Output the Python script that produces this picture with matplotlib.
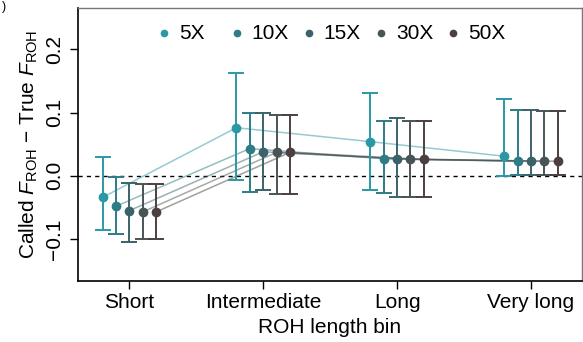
import numpy as np
import matplotlib
matplotlib.use('Agg')
import matplotlib.pyplot as plt

plt.rcParams['font.family'] = ['Liberation Sans', 'DejaVu Sans']
plt.rcParams['mathtext.fontset'] = 'custom'
plt.rcParams['mathtext.rm'] = 'Liberation Sans'
plt.rcParams['mathtext.it'] = 'Liberation Sans:italic'

bins = ['Short', 'Intermediate', 'Long', 'Very long']
depths = ['5X', '10X', '15X', '30X', '50X']
colors = ['#2b98a5', '#2d7c86', '#3a6369', '#4a5455', '#4d3f3f']

# mean difference per depth, one value per bin
mean_5x = [-0.034, 0.076, 0.054, 0.031]
mean_10x = [-0.048, 0.043, 0.027, 0.023]
mean_15x = [-0.055, 0.038, 0.027, 0.023]
mean_30x = [-0.057, 0.037, 0.026, 0.023]
mean_50x = [-0.057, 0.037, 0.026, 0.023]

upper_5x = [0.029, 0.162, 0.131, 0.122]
upper_10x = [-0.002, 0.100, 0.087, 0.104]
upper_15x = [-0.011, 0.099, 0.091, 0.104]
upper_30x = [-0.013, 0.096, 0.087, 0.102]
upper_50x = [-0.013, 0.096, 0.087, 0.102]

lower_5x = [-0.085, -0.007, -0.022, 0.000]
lower_10x = [-0.092, -0.026, -0.027, 0.001]
lower_15x = [-0.104, -0.023, -0.033, 0.001]
lower_30x = [-0.100, -0.028, -0.033, 0.001]
lower_50x = [-0.100, -0.028, -0.033, 0.001]

means = [mean_5x, mean_10x, mean_15x, mean_30x, mean_50x]
uppers = [upper_5x, upper_10x, upper_15x, upper_30x, upper_50x]
lowers = [lower_5x, lower_10x, lower_15x, lower_30x, lower_50x]
offsets = [-0.2, -0.1, 0.0, 0.1, 0.2]

fig = plt.figure(figsize=(5.83, 3.42), dpi=100)
ax = fig.add_axes([0.1338, 0.1784, 0.8642, 0.7982])

x = np.arange(1, len(bins) + 1)
ax.axhline(0, color='black', lw=1, ls=(0, (3, 3)), zorder=1)

for i in range(len(depths)):
    xs = x + offsets[i]
    ax.plot(xs, means[i], color=colors[i], alpha=0.5, lw=1.1, zorder=2)
for i in range(len(depths)):
    xs = x + offsets[i]
    m = np.array(means[i])
    err = [m - np.array(lowers[i]), np.array(uppers[i]) - m]
    ax.errorbar(xs, m, yerr=err, fmt='none', ecolor=colors[i],
                elinewidth=1.4, capsize=6, capthick=1.4, zorder=3)
    ax.plot(xs, m, 'o', color=colors[i], ms=6, zorder=4)

ax.set_xlim(0.617, 4.38)
ax.set_ylim(-0.166, 0.265)
ax.set_xticks(x)
ax.set_xticklabels(bins, fontsize=15)
ax.set_yticks([-0.1, 0.0, 0.1, 0.2])
ax.set_yticklabels(['\u22120.1', '0.0', '0.1', '0.2'], fontsize=15,
                   rotation=90, va='center')
ax.tick_params(axis='both', direction='out', length=6, width=1, color='black')
ax.tick_params(axis='x', pad=3)
ax.tick_params(axis='y', pad=4)
for s in ['left', 'bottom']:
    ax.spines[s].set_color('black')
    ax.spines[s].set_linewidth(1.2)
for s in ['top', 'right']:
    ax.spines[s].set_color('#777777')
    ax.spines[s].set_linewidth(1.0)

ax.set_xlabel('ROH length bin', fontsize=15, labelpad=4)
ax.set_ylabel('Called $F_{\\mathrm{ROH}}$ \u2212 True $F_{\\mathrm{ROH}}$',
              fontsize=15, labelpad=4)

# legend drawn as evenly spaced entries, like the original
leg_x = [0.171, 0.315, 0.458, 0.601, 0.744]
for lx, c, lab in zip(leg_x, colors, depths):
    ax.plot([lx], [0.908], 'o', ms=4.5, color=c, transform=ax.transAxes,
            clip_on=False)
    ax.text(lx + 0.03, 0.908, lab, fontsize=15, va='center', ha='left',
            transform=ax.transAxes)

fig.text(0.003, 0.998, ')', fontsize=9, va='top')

fig.savefig('out.png', dpi=100)
